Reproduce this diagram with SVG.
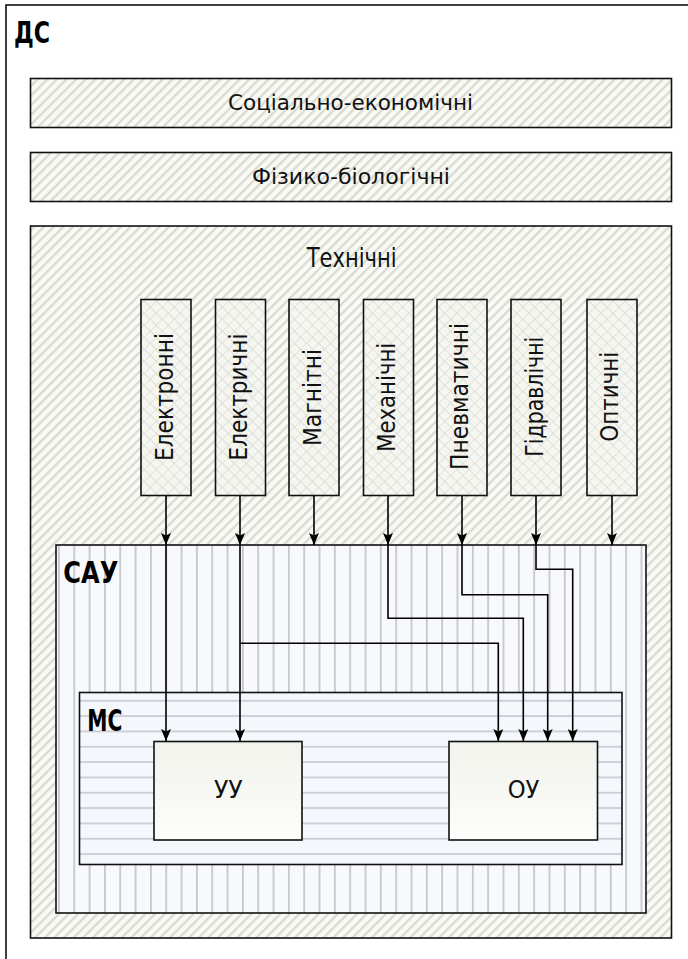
<svg xmlns="http://www.w3.org/2000/svg" width="688" height="959" viewBox="0 0 688 959">
<defs>
<pattern id="diag" patternUnits="userSpaceOnUse" width="6.8" height="6.8" patternTransform="rotate(45)">
<rect width="6.8" height="6.8" fill="#fafaf5"/>
<rect x="0" y="0" width="2.2" height="6.8" fill="#d9d9d3"/>
</pattern>
<pattern id="cross" patternUnits="userSpaceOnUse" width="8.5" height="8.5" patternTransform="rotate(45)">
<rect width="8.5" height="8.5" fill="#f6f6f1"/>
<path d="M0,0 H8.5 M0,0 V8.5" stroke="#d6d6d2" stroke-width="1.2" fill="none"/>
</pattern>
<pattern id="vstripe" patternUnits="userSpaceOnUse" width="15.33" height="10" x="12">
<rect width="15.33" height="10" fill="#f8f9fc"/>
<rect x="0" y="0" width="1.8" height="10" fill="#c6c7ce"/>
</pattern>
<pattern id="hstripe" patternUnits="userSpaceOnUse" width="10" height="15.33" y="10">
<rect width="10" height="15.33" fill="#f4f7fb"/>
<rect x="0" y="0" width="10" height="1.8" fill="#c9ccd4"/>
</pattern>
<linearGradient id="grad" x1="0" y1="0" x2="0" y2="1">
<stop offset="0" stop-color="#f1f3ec"/>
<stop offset="1" stop-color="#fdfdfb"/>
</linearGradient>
<marker id="arr" markerUnits="userSpaceOnUse" markerWidth="12" markerHeight="10" refX="12" refY="5" orient="auto">
<path d="M0,0 L12,5 L0,10 L2.5,5 z" fill="#000"/>
</marker>
</defs>
<style>
.box{stroke:#111;stroke-width:1.6}
.t{font-family:"DejaVu Sans Condensed","DejaVu Sans","Liberation Sans Narrow",sans-serif;fill:#111}
.b{font-family:"DejaVu Sans Condensed","DejaVu Sans","Liberation Sans Narrow",sans-serif;font-weight:bold;fill:#000}
.c{fill:none;stroke:#000;stroke-width:1.6}
</style>
<g id="ds">
<rect class="box" x="6" y="5" width="720" height="1000" fill="#ffffff"/>
<text class="b" x="14" y="43" font-size="30" textLength="36" lengthAdjust="spacingAndGlyphs">ДС</text>
</g>
<g id="social">
<rect class="box" x="30.5" y="78.5" width="641" height="49" fill="url(#diag)"/>
<text class="t" x="350.5" y="110" font-size="22" text-anchor="middle" textLength="245" lengthAdjust="spacingAndGlyphs">Соціально-економічні</text>
</g>
<g id="physbio">
<rect class="box" x="30.5" y="152.5" width="641" height="49" fill="url(#diag)"/>
<text class="t" x="351" y="184" font-size="22" text-anchor="middle" textLength="198" lengthAdjust="spacingAndGlyphs">Фізико-біологічні</text>
</g>
<g id="tech">
<rect class="box" x="30.5" y="226" width="641" height="712" fill="url(#diag)"/>
<text class="t" x="351.7" y="266.5" font-size="27" text-anchor="middle" textLength="90" lengthAdjust="spacingAndGlyphs">Технічні</text>
</g>
<g id="electronic">
<rect class="box" x="141" y="299.5" width="50" height="196" fill="url(#cross)"/>
<text class="t" font-size="24" text-anchor="middle" transform="translate(172.7,397) rotate(-90)" textLength="128" lengthAdjust="spacingAndGlyphs">Електронні</text>
</g>
<g id="electric">
<rect class="box" x="215.5" y="299.5" width="50" height="196" fill="url(#cross)"/>
<text class="t" font-size="24" text-anchor="middle" transform="translate(246.7,397) rotate(-90)" textLength="127" lengthAdjust="spacingAndGlyphs">Електричні</text>
</g>
<g id="magnetic">
<rect class="box" x="289" y="299.5" width="50" height="196" fill="url(#cross)"/>
<text class="t" font-size="24" text-anchor="middle" transform="translate(320.7,397.5) rotate(-90)" textLength="97" lengthAdjust="spacingAndGlyphs">Магнітні</text>
</g>
<g id="mechanic">
<rect class="box" x="363.5" y="299.5" width="50" height="196" fill="url(#cross)"/>
<text class="t" font-size="24" text-anchor="middle" transform="translate(395,397.3) rotate(-90)" textLength="109" lengthAdjust="spacingAndGlyphs">Механічні</text>
</g>
<g id="pneumatic">
<rect class="box" x="437" y="299.5" width="50" height="196" fill="url(#cross)"/>
<text class="t" font-size="24" text-anchor="middle" transform="translate(468.3,396.5) rotate(-90)" textLength="147" lengthAdjust="spacingAndGlyphs">Пневматичні</text>
</g>
<g id="hydraulic">
<rect class="box" x="511" y="299.5" width="50" height="196" fill="url(#cross)"/>
<text class="t" font-size="24" text-anchor="middle" transform="translate(542.7,396.7) rotate(-90)" textLength="120" lengthAdjust="spacingAndGlyphs">Гідравлічні</text>
</g>
<g id="optical">
<rect class="box" x="587" y="299.5" width="50" height="196" fill="url(#cross)"/>
<text class="t" font-size="24" text-anchor="middle" transform="translate(618.3,396.7) rotate(-90)" textLength="90" lengthAdjust="spacingAndGlyphs">Оптичні</text>
</g>
<g id="sau">
<rect class="box" x="56" y="545" width="590" height="368" fill="url(#vstripe)"/>
<text class="b" x="63.3" y="582.7" font-size="30" textLength="55" lengthAdjust="spacingAndGlyphs">САУ</text>
</g>
<g id="ms">
<rect class="box" x="79.5" y="692.5" width="542.5" height="172" fill="url(#hstripe)"/>
<text class="b" x="87.3" y="730.7" font-size="30" textLength="35" lengthAdjust="spacingAndGlyphs">МС</text>
</g>
<g id="uu">
<rect class="box" x="154" y="741.5" width="148" height="98.5" fill="url(#grad)"/>
<text class="t" x="228.3" y="798" font-size="25" text-anchor="middle" textLength="28.7" lengthAdjust="spacingAndGlyphs">УУ</text>
</g>
<g id="ou">
<rect class="box" x="449" y="741.5" width="148.5" height="98.5" fill="url(#grad)"/>
<text class="t" x="523.5" y="798" font-size="25" text-anchor="middle" textLength="31.7" lengthAdjust="spacingAndGlyphs">ОУ</text>
</g>
<g id="connectors">
<path class="c" d="M166,496 V545" marker-end="url(#arr)"/>
<path class="c" d="M240,496 V545" marker-end="url(#arr)"/>
<path class="c" d="M314,496 V545" marker-end="url(#arr)"/>
<path class="c" d="M388,496 V545" marker-end="url(#arr)"/>
<path class="c" d="M462,496 V545" marker-end="url(#arr)"/>
<path class="c" d="M536,496 V545" marker-end="url(#arr)"/>
<path class="c" d="M612,496 V545" marker-end="url(#arr)"/>
<path class="c" d="M166,545 V741" marker-end="url(#arr)"/>
<path class="c" d="M240,545 V741" marker-end="url(#arr)"/>
<path class="c" d="M240,643.3 H498.3 V741" marker-end="url(#arr)"/>
<path class="c" d="M388,545 V618.3 H523.3 V741" marker-end="url(#arr)"/>
<path class="c" d="M462,545 V594.7 H547.7 V741" marker-end="url(#arr)"/>
<path class="c" d="M536,545 V569.3 H572.7 V741" marker-end="url(#arr)"/>
</g>
</svg>
